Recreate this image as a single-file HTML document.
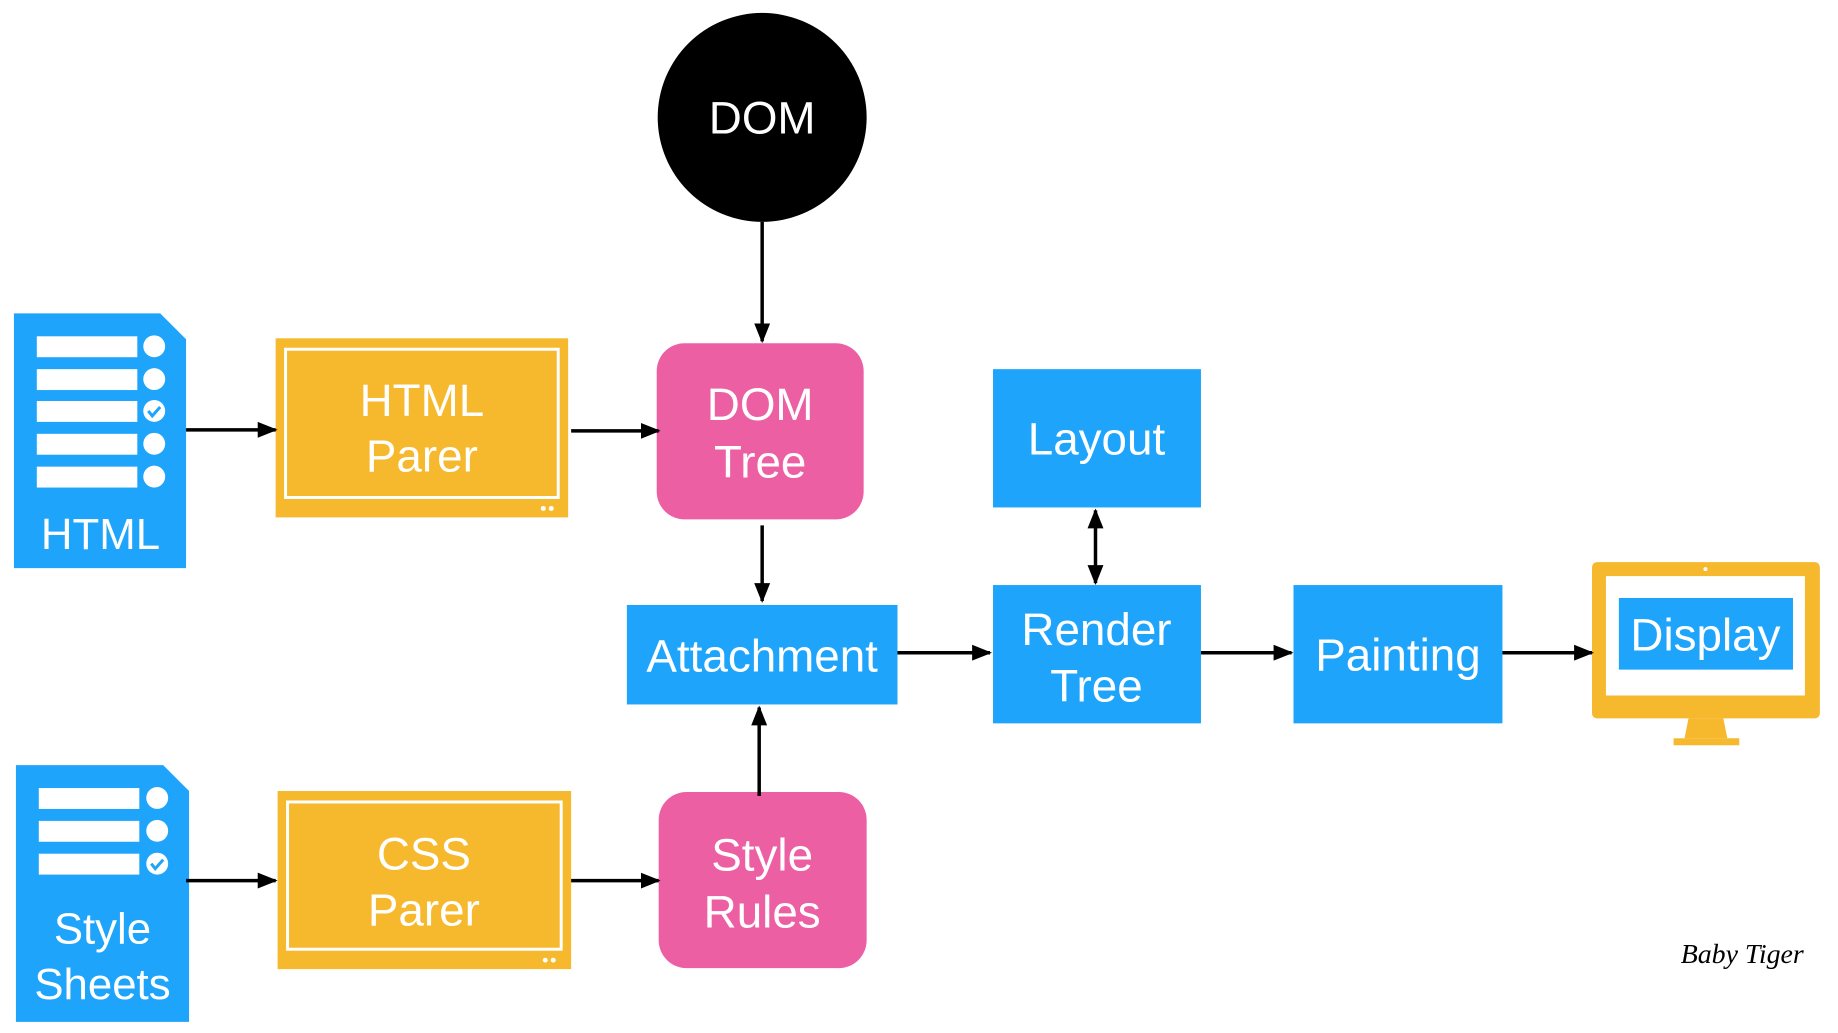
<!DOCTYPE html>
<html><head><meta charset="utf-8"><style>
html,body{margin:0;padding:0;background:#fff;}
svg text{font-family:"Liberation Sans",Arial,sans-serif;fill:#fff;text-anchor:middle;}
</style></head><body>
<svg width="1838" height="1028" viewBox="0 0 1838 1028" xmlns="http://www.w3.org/2000/svg">
<defs>
<marker id="a" markerWidth="20" markerHeight="20" refX="18" refY="10" orient="auto-start-reverse" markerUnits="userSpaceOnUse" viewBox="0 0 20 20">
<path d="M0,2 L20,10 L0,18 z" fill="#000"/></marker>
</defs>
<g transform="scale(0.995)">
<circle cx="766" cy="118" r="105" fill="#000"/>
<text x="766" y="134" font-size="46">DOM</text>

<path d="M14,315 H161 L187,341 V571 H14 Z" fill="#1ea5fb"/>
<g fill="#fff">
<rect x="37" y="338" width="101" height="21"/><rect x="37" y="371" width="101" height="21"/><rect x="37" y="403" width="101" height="21"/><rect x="37" y="436" width="101" height="21"/><rect x="37" y="469" width="101" height="21"/>
<circle cx="155" cy="348" r="11"/><circle cx="155" cy="381" r="11"/><circle cx="155" cy="413" r="11"/><circle cx="155" cy="446" r="11"/><circle cx="155" cy="479" r="11"/>
</g>
<path d="M149,413 l4,5 l8,-9" stroke="#1ea5fb" stroke-width="3" fill="none"/>
<text x="101" y="552" font-size="44">HTML</text>

<path d="M16,769 H164 L190,795 V1027 H16 Z" fill="#1ea5fb"/>
<g fill="#fff">
<rect x="39" y="792" width="101" height="21"/><rect x="39" y="825" width="101" height="21"/><rect x="39" y="858" width="101" height="21"/>
<circle cx="158" cy="802" r="11"/><circle cx="158" cy="835" r="11"/><circle cx="158" cy="868" r="11"/>
</g>
<path d="M152,868 l4,5 l8,-9" stroke="#1ea5fb" stroke-width="3" fill="none"/>
<text x="103" y="948" font-size="44">Style</text>
<text x="103" y="1004" font-size="44">Sheets</text>

<rect x="277" y="340" width="294" height="180" fill="#f6b82c"/>
<rect x="287" y="351" width="274" height="149" fill="none" stroke="#fff" stroke-width="3"/>
<circle cx="546" cy="511" r="2.5" fill="#fff"/><circle cx="554" cy="511" r="2.5" fill="#fff"/>
<text x="424" y="418" font-size="46">HTML</text>
<text x="424" y="474" font-size="46">Parer</text>

<rect x="279" y="795" width="295" height="179" fill="#f6b82c"/>
<rect x="289" y="806" width="275" height="148" fill="none" stroke="#fff" stroke-width="3"/>
<circle cx="548" cy="965" r="2.5" fill="#fff"/><circle cx="556" cy="965" r="2.5" fill="#fff"/>
<text x="426" y="874" font-size="46">CSS</text>
<text x="426" y="930" font-size="46">Parer</text>

<rect x="660" y="345" width="208" height="177" rx="28" fill="#ec60a3"/>
<text x="764" y="422" font-size="46">DOM</text>
<text x="764" y="480" font-size="46">Tree</text>

<rect x="662" y="796" width="209" height="177" rx="28" fill="#ec60a3"/>
<text x="766" y="875" font-size="46">Style</text>
<text x="766" y="932" font-size="46">Rules</text>

<rect x="630" y="608" width="272" height="100" fill="#1ea5fb"/>
<text x="766" y="675" font-size="46">Attachment</text>

<rect x="998" y="371" width="209" height="139" fill="#1ea5fb"/>
<text x="1102" y="457" font-size="46">Layout</text>

<rect x="998" y="588" width="209" height="139" fill="#1ea5fb"/>
<text x="1102" y="648" font-size="46">Render</text>
<text x="1102" y="705" font-size="46">Tree</text>

<rect x="1300" y="588" width="210" height="139" fill="#1ea5fb"/>
<text x="1405" y="674" font-size="46">Painting</text>

<rect x="1600" y="565" width="229" height="157" rx="5" fill="#f6b82c"/>
<rect x="1614" y="579" width="200" height="120" fill="#fff"/>
<circle cx="1714" cy="572" r="2" fill="#fff"/>
<rect x="1627" y="601" width="175" height="72" fill="#1ea5fb"/>
<text x="1714" y="654" font-size="46">Display</text>
<path d="M1697,722 H1732 L1736,742 H1693 Z" fill="#f6b82c"/>
<rect x="1682" y="742" width="66" height="7" fill="#f6b82c"/>

<g stroke="#000" stroke-width="3.5" fill="none" marker-end="url(#a)">
<line x1="766" y1="223" x2="766" y2="343"/>
<line x1="766" y1="528" x2="766" y2="604"/>
<line x1="763" y1="800" x2="763" y2="711"/>
<line x1="187" y1="432" x2="277" y2="432"/>
<line x1="574" y1="433" x2="662" y2="433"/>
<line x1="187" y1="885" x2="277" y2="885"/>
<line x1="574" y1="885" x2="662" y2="885"/>
<line x1="902" y1="656" x2="995" y2="656"/>
<line x1="1207" y1="656" x2="1298" y2="656"/>
<line x1="1510" y1="656" x2="1600" y2="656"/>
<line x1="1101" y1="513" x2="1101" y2="586" marker-start="url(#a)"/>
</g>

<text x="1751" y="968" font-size="28" style="fill:#000;font-family:'Liberation Serif',serif;font-style:italic">Baby Tiger</text>
</g>
</svg>
</body></html>
